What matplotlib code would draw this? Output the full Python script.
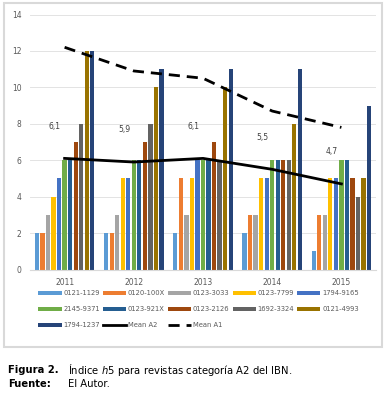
import matplotlib
matplotlib.use("Agg")
from matplotlib import pyplot as plt
from matplotlib.patches import Rectangle
import numpy as np

years = ["2011", "2012", "2013", "2014", "2015"]
journals = ["0121-1129", "0120-100X", "0123-3033", "0123-7799", "1794-9165",
            "2145-9371", "0123-921X", "0123-2126", "1692-3324", "0121-4993",
            "1794-1237"]
colores = ["#5B9BD5", "#ED7D31", "#A5A5A5", "#FFC000", "#4472C4",
           "#70AD47", "#255E91", "#9E480E", "#636363", "#997300",
           "#264478"]
# h5 por revista (filas) y año (columnas)
h5 = [
    [2, 2, 2, 2, 1],
    [2, 2, 5, 3, 3],
    [3, 3, 3, 3, 3],
    [4, 5, 5, 5, 5],
    [5, 5, 6, 5, 5],
    [6, 6, 6, 6, 6],
    [6, 6, 6, 6, 6],
    [7, 7, 7, 6, 5],
    [8, 8, 6, 6, 4],
    [12, 10, 10, 8, 5],
    [12, 11, 11, 11, 9],
]
mean_a2 = [6.1, 5.9, 6.1, 5.5, 4.7]
mean_a1 = [12.2, 10.9, 10.5, 8.7, 7.8]
etiquetas_a2 = ["6,1", "5,9", "6,1", "5,5", "4,7"]

fig = plt.figure(figsize=(3.85, 3.95), dpi=100)
ax = fig.add_axes([30/385, 1 - 269.5/395, 346/385, 255/395])

x = np.arange(len(years))
paso = 0.08
ancho = 0.062
handles = []
for i, (nom, col) in enumerate(zip(journals, colores)):
    b = ax.bar(x + (i - 5) * paso, h5[i], width=ancho, color=col, label=nom,
               zorder=2)
    handles.append(b)

la2, = ax.plot(x, mean_a2, color="black", lw=2, label="Mean A2", zorder=3)
la1, = ax.plot(x, mean_a1, color="black", lw=2, ls=(0, (4, 2.5)),
               label="Mean A1", zorder=3)
handles += [la2, la1]
labels = journals + ["Mean A2", "Mean A1"]
for xi, yi, t in zip(x, mean_a2, etiquetas_a2):
    ax.annotate(t, (xi, yi), xytext=(-7, 20), textcoords="offset points",
                ha="center", va="bottom", fontsize=5.5, color="#404040")

ax.set_xlim(-0.5, 4.5)
ax.set_ylim(0, 14)
ax.set_yticks(range(0, 15, 2))
ax.set_xticks(x)
ax.set_xticklabels(years)
ax.grid(axis="y", color="#e3e3e3", lw=0.7, zorder=0)
for s in ["top", "right", "left"]:
    ax.spines[s].set_visible(False)
ax.spines["bottom"].set_color("#d9d9d9")
ax.tick_params(length=0, labelsize=5.5, colors="#595959", pad=6)

# orden por filas en la leyenda (columnas de 3,3,3,2,2)
orden = [0, 5, 10, 1, 6, 11, 2, 7, 12, 3, 8, 4, 9]
leg = fig.legend([handles[k] for k in orden], [labels[k] for k in orden],
                 ncol=5, loc="upper left",
                 bbox_to_anchor=(33/385, 1 - 285/395),
                 frameon=False, fontsize=4.9, handlelength=3.4,
                 handleheight=0.6, handletextpad=0.25, columnspacing=0.45,
                 labelspacing=1.45, labelcolor="#595959", borderpad=0.3)

fig.patches.append(Rectangle((4/385, 1 - 347/395), 378/385, 344/395,
                             transform=fig.transFigure, fill=False,
                             ec="#d9d9d9", lw=1.5))

fig.text(8/385, 1 - 370/395, "Figura 2.", fontsize=7.2, weight="bold",
         va="center")
fig.text(68/385, 1 - 370/395, "Índice $\\it{h5}$ para revistas categoría A2 del IBN.",
         fontsize=7.2, va="center")
fig.text(8/385, 1 - 384/395, "Fuente:", fontsize=7.2, weight="bold",
         va="center")
fig.text(68/385, 1 - 384/395, "El Autor.", fontsize=7.2, va="center")

fig.savefig("out.png", dpi=100)
